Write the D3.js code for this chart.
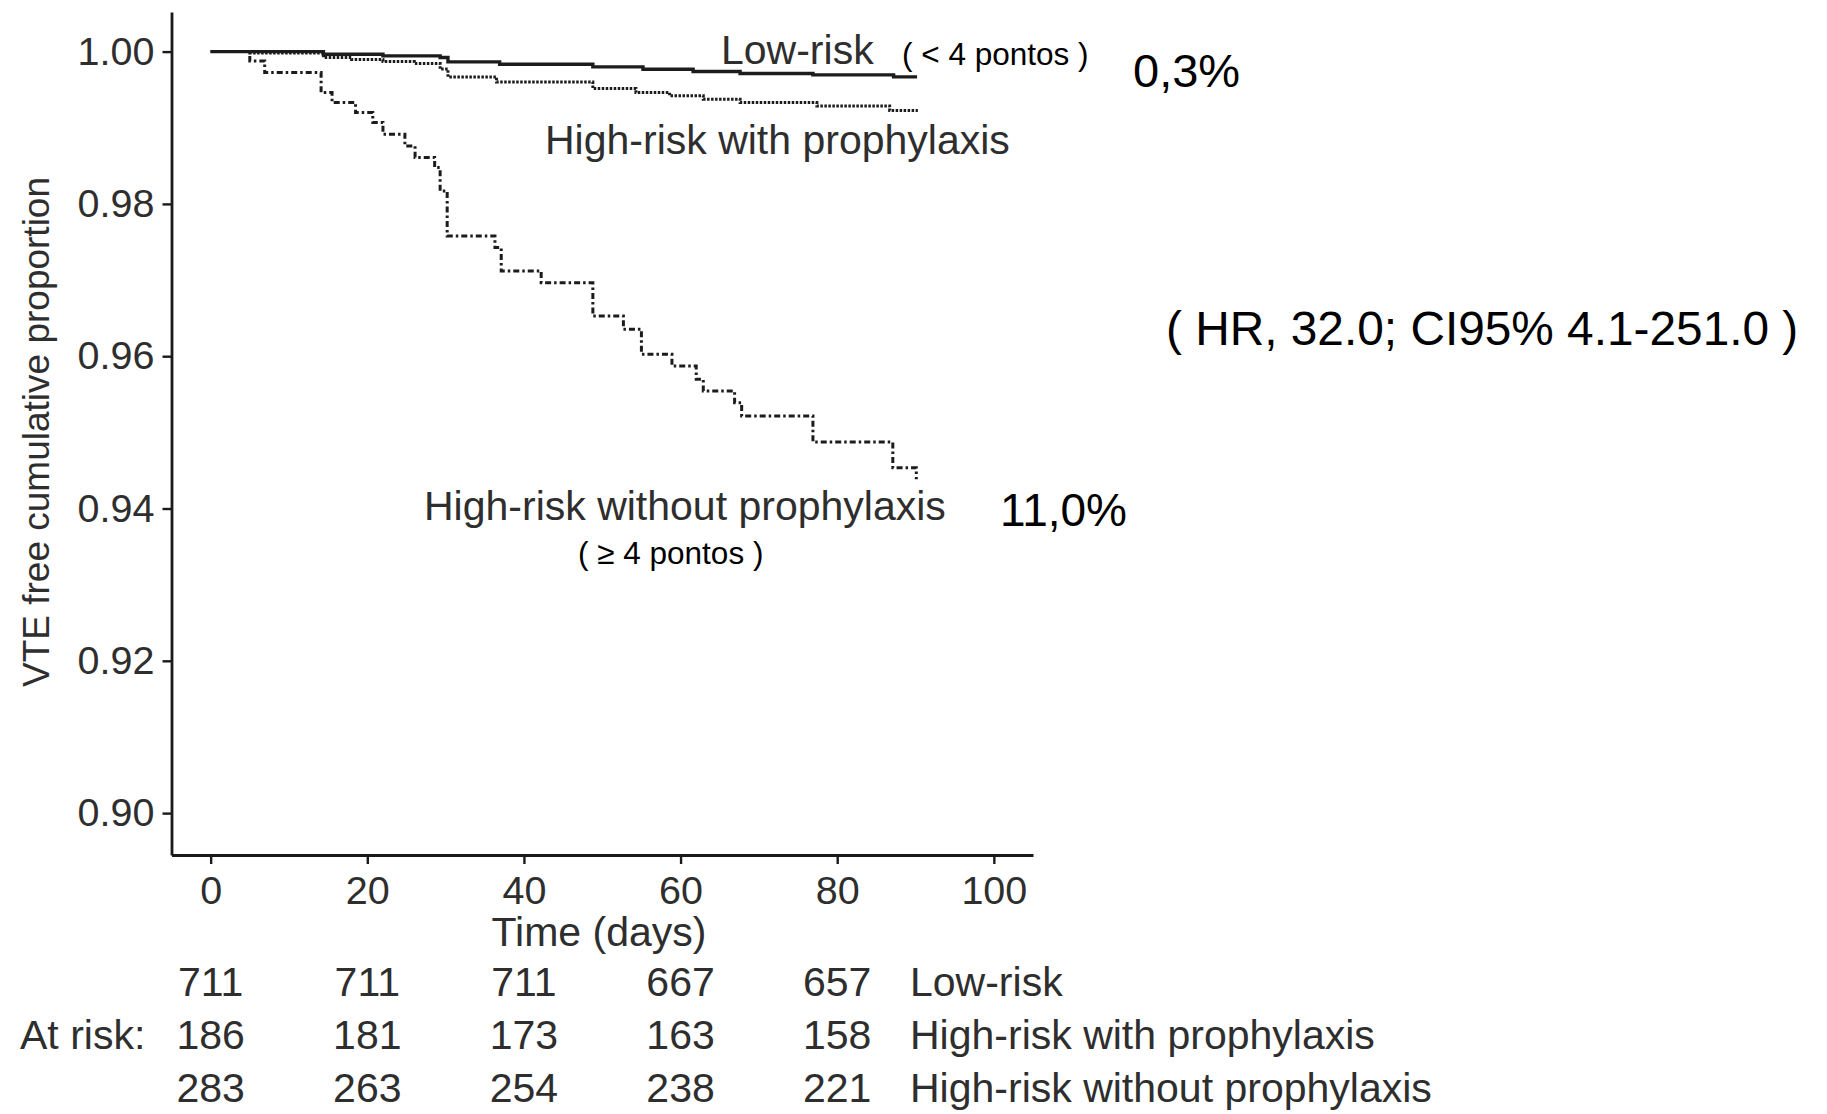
<!DOCTYPE html>
<html>
<head>
<meta charset="utf-8">
<style>
  body { margin: 0; background-color: white; }
  svg { font-family: 'Liberation Sans', Arial, sans-serif; }
  .axis path, .axis line { stroke: #1a1a1a; }
  .axis path { stroke-width: 2.8px; }
  .axis line { stroke-width: 2.4px; }
  .axis text { fill: #2e2e2e; font-size: 39.5px; font-family: 'Liberation Sans', Arial, sans-serif; }
  .curve { fill: none; stroke: #1c1c1c; }
  .label { fill: #2e2e2e; font-size: 41px; }
  .note { fill: #000; }
</style>
</head>
<body>
<div id="my_dataviz"></div>
<script src="https://d3js.org/d3.v7.min.js"></script>
<script>

// Kaplan-Meier steps (time in days, VTE free proportion)
var lowRiskTime = [0, 14.4, 22, 29.3, 30.3, 36.9, 48.8, 55.2, 61.6, 67.6, 76.9, 87.2, 90.2];
var lowRiskSurv = [1.0, 0.99966, 0.99944, 0.99922, 0.99865, 0.99834, 0.99799, 0.99769, 0.99738, 0.99712, 0.99694, 0.99668, 0.99668];

var withProphTime = [0, 5.0, 14.4, 18, 22, 26, 29.3, 30.3, 36.5, 48.8, 54.3, 58.6, 62.9, 67.6, 77.4, 86.7, 90.3];
var withProphSurv = [1.0, 0.9998, 0.99922, 0.99895, 0.9987, 0.99845, 0.9977, 0.99668, 0.99600, 0.99515, 0.99463, 0.9942, 0.99375, 0.99331, 0.99287, 0.99225, 0.99225];

var withoutProphTime = [0, 5.0, 6.9, 14.1, 15.5, 18.5, 20.7, 22.0, 24.8, 26.1, 28.6, 29.3, 30.2, 36.3, 37.1, 42.2, 48.8, 52.7, 55.0, 58.9, 62.0, 62.9, 66.9, 67.8, 76.9, 87.1, 90.1];
var withoutProphSurv = [1.0, 0.99878, 0.99725, 0.99463, 0.99331, 0.992, 0.99069, 0.98915, 0.98761, 0.98609, 0.98477, 0.9817, 0.97579, 0.97426, 0.97119, 0.96966, 0.96528, 0.96353, 0.96025, 0.95871, 0.95696, 0.95543, 0.9539, 0.95214, 0.94873, 0.94536, 0.94383];

// axis ticks
var xTicks = [0, 20, 40, 60, 80, 100];
var yTicks = [0.90, 0.92, 0.94, 0.96, 0.98, 1.00];

// number at risk table
var riskTimes = [0, 20, 40, 60, 80];
var riskGroups = ["Low-risk", "High-risk with prophylaxis", "High-risk without prophylaxis"];
var riskLow = [711, 711, 711, 667, 657];
var riskWithProph = [186, 181, 173, 163, 158];
var riskWithoutProph = [283, 263, 254, 238, 221];

// set the dimensions and margins of the graph
var margin = {top: 12, left: 171.5},
    width = 861.5,
    height = 843;

var svg = d3.select("#my_dataviz")
  .append("svg")
    .attr("width", 1827)
    .attr("height", 1114);

var g = svg.append("g")
    .attr("transform", "translate(" + margin.left + "," + margin.top + ")");

var x = d3.scaleLinear().domain([-5, 105]).range([0, width]);
var y = d3.scaleLinear().domain([0.8945, 1.0052]).range([height, 0]);

// axes
g.append("g")
    .attr("class", "axis")
    .attr("transform", "translate(0," + height + ")")
    .call(d3.axisBottom(x).tickValues(xTicks).tickSize(9).tickSizeOuter(0).tickPadding(12));

g.append("g")
    .attr("class", "axis")
    .call(d3.axisLeft(y).tickValues(yTicks).tickFormat(d3.format(".2f")).tickSize(9).tickSizeOuter(0).tickPadding(8));

// curves
var line = d3.line()
    .curve(d3.curveStepAfter)
    .x(function(d) { return x(d[0]); })
    .y(function(d) { return y(d[1]); });

function pairs(t, s) { return t.map(function(d, i) { return [d, s[i]]; }); }

g.append("path").attr("class", "curve")
    .attr("d", line(pairs(withoutProphTime, withoutProphSurv)))
    .attr("stroke-width", 3)
    .attr("stroke-dasharray", "6,3,2.5,3");

g.append("path").attr("class", "curve")
    .attr("d", line(pairs(withProphTime, withProphSurv)))
    .attr("stroke-width", 3)
    .attr("stroke-dasharray", "2.5,1.5");

g.append("path").attr("class", "curve")
    .attr("d", line(pairs(lowRiskTime, lowRiskSurv)))
    .attr("stroke-width", 3.4);

// axis titles
svg.append("text")
    .attr("class", "label")
    .attr("text-anchor", "middle")
    .attr("x", 599)
    .attr("y", 946)
    .text("Time (days)");

svg.append("text")
    .attr("class", "label")
    .attr("text-anchor", "middle")
    .attr("transform", "translate(49,432) rotate(-90)")
    .style("font-size", "37px")
    .text("VTE free cumulative proportion");

// curve labels
svg.append("text").attr("class", "label").attr("x", 721).attr("y", 64).text("Low-risk");
svg.append("text").attr("class", "label").attr("x", 545).attr("y", 154).text("High-risk with prophylaxis");
svg.append("text").attr("class", "label").attr("x", 424).attr("y", 520).text("High-risk without prophylaxis");

// added notes
svg.append("text").attr("class", "note").attr("x", 902).attr("y", 65).style("font-size", "31.5px").text("( < 4 pontos )");
svg.append("text").attr("class", "note").attr("x", 578).attr("y", 564).style("font-size", "31.5px").text("( \u2265 4 pontos )");
svg.append("text").attr("class", "note").attr("x", 1133).attr("y", 87).style("font-size", "47px").text("0,3%");
svg.append("text").attr("class", "note").attr("x", 1000).attr("y", 526).style("font-size", "46px").text("11,0%");
svg.append("text").attr("class", "note").attr("x", 1166).attr("y", 345).style("font-size", "47.8px").text("( HR, 32.0; CI95% 4.1-251.0 )");

// at risk table
var rowY = [996, 1049, 1102];
var riskRows = [riskLow, riskWithProph, riskWithoutProph];

riskRows.forEach(function(row, r) {
  svg.append("g").selectAll("text")
    .data(row)
    .enter()
    .append("text")
      .attr("class", "label")
      .attr("text-anchor", "middle")
      .attr("x", function(d, i) { return margin.left + x(riskTimes[i]); })
      .attr("y", rowY[r])
      .text(function(d) { return d; });

  svg.append("text")
    .attr("class", "label")
    .attr("x", 910)
    .attr("y", rowY[r])
    .text(riskGroups[r]);
});

svg.append("text")
    .attr("class", "label")
    .attr("x", 20)
    .attr("y", rowY[1])
    .text("At risk:");

</script>
</body>
</html>
